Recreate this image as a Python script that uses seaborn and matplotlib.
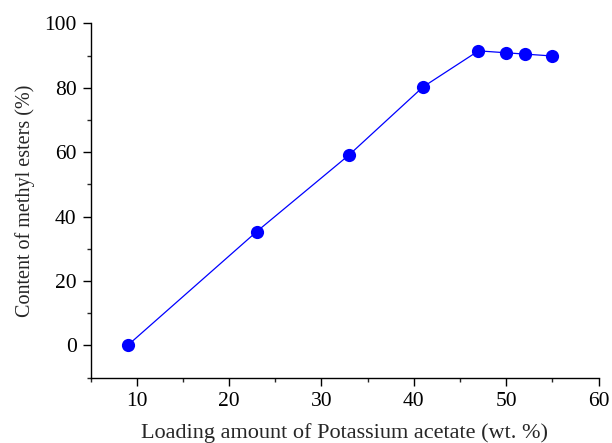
import matplotlib
matplotlib.use("Agg")
import matplotlib.pyplot as plt
from matplotlib.ticker import MultipleLocator
import seaborn as sns
import pandas as pd

# loading amount (wt. %) vs methyl ester content (%)
loading = [9, 23, 33, 41, 47, 50, 52, 55]
content = [0, 35.4, 59.2, 80.3, 91.5, 90.9, 90.5, 89.9]

df = pd.DataFrame({"loading": loading, "content": content})

sns.set_style("ticks")
plt.rcParams["font.family"] = ["Liberation Serif", "DejaVu Serif"]

fig = plt.figure(figsize=(6.12, 4.43), dpi=100)
ax = fig.add_axes([0.148, 0.1474, 0.83, 0.7996])

sns.lineplot(data=df, x="loading", y="content", ax=ax, color="#0000FF",
             linewidth=0.9, marker="o", markersize=9.5, markeredgewidth=0,
             markerfacecolor="#0000FF")

ax.set_xlim(5, 60)
ax.set_ylim(-10, 100)
ax.xaxis.set_minor_locator(MultipleLocator(5))
ax.yaxis.set_minor_locator(MultipleLocator(10))
ax.set_xticks([10, 20, 30, 40, 50, 60])
ax.set_yticks([0, 20, 40, 60, 80, 100])

ax.tick_params(which="major", length=6, width=1.0, direction="out", labelsize=15.5,
               colors="black", pad=4)
ax.tick_params(which="minor", length=3, width=1.0, direction="out")
for s in ["left", "bottom"]:
    ax.spines[s].set_linewidth(1.0)
    ax.spines[s].set_color("black")
sns.despine(ax=ax)

ax.set_xlabel("Loading amount of Potassium acetate (wt. %)", fontsize=16, labelpad=9)
ax.set_ylabel("Content of methyl esters (%)", fontsize=14.5, labelpad=7)

fig.savefig("out.png", dpi=100)
